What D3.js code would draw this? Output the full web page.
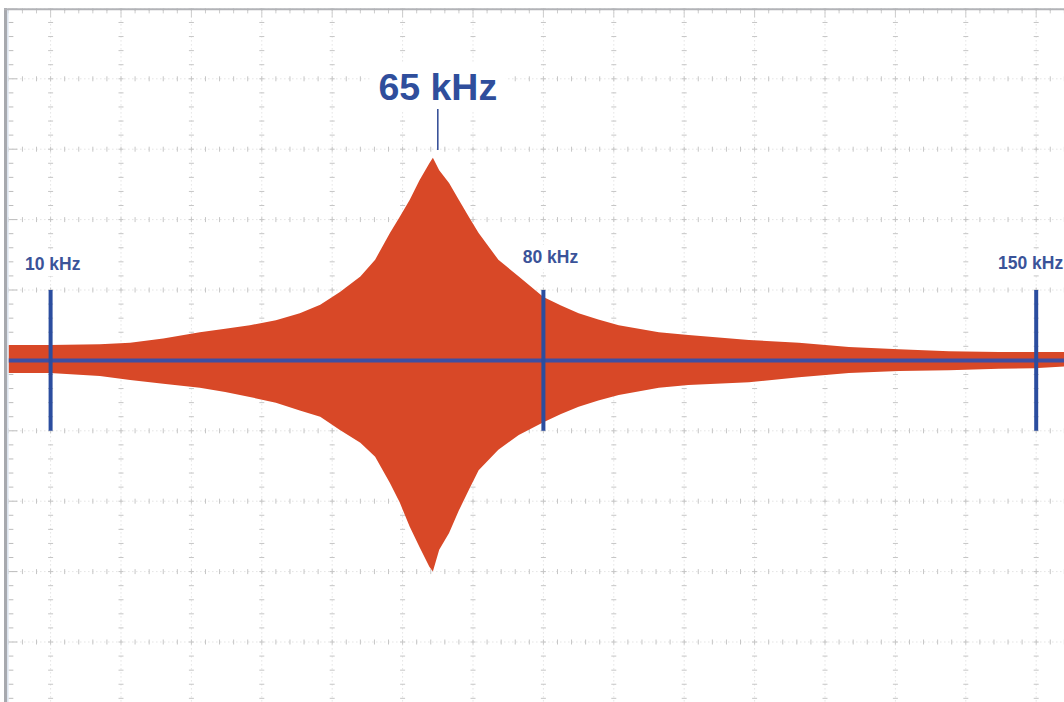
<!DOCTYPE html>
<html>
<head>
<meta charset="utf-8">
<script src="https://cdn.jsdelivr.net/npm/d3@7"></script>
<style>
  html, body { margin: 0; padding: 0; background: #ffffff; overflow: hidden; }
  svg { display: block; }
  text { font-family: "Liberation Sans", Arial, sans-serif; font-weight: bold; }
</style>
</head>
<body>
<svg id="scope" width="1064" height="702"></svg>
<script>
// Swept-sine response envelope (frequency in kHz, amplitude in screen divisions)
const freqKHz = [4.0, 9.9, 17.0, 21.3, 26.0, 31.2, 34.8, 38.3, 42.0, 45.4, 48.3, 51.1, 54.0, 56.1, 58.2, 59.6, 61.0, 62.4, 63.8, 64.3,
                 65.2, 66.6, 68.0, 69.4, 70.8, 73.6, 76.5, 80.0, 82.5, 85.0, 87.8, 90.7, 96.4, 100.6, 109.2, 116.3, 123.4, 130.5,
                 137.6, 144.7, 149.7, 155.0];
const upperDiv = [0.22, 0.22, 0.23, 0.25, 0.31, 0.40, 0.45, 0.50, 0.57, 0.67, 0.79, 0.97, 1.19, 1.43, 1.81, 2.04, 2.28, 2.56, 2.80, 2.88,
                  2.70, 2.52, 2.28, 2.04, 1.81, 1.43, 1.19, 0.90, 0.78, 0.67, 0.58, 0.50, 0.40, 0.36, 0.29, 0.25, 0.19, 0.16,
                  0.13, 0.12, 0.12, 0.12];
const lowerDiv = [0.18, 0.18, 0.22, 0.28, 0.33, 0.39, 0.45, 0.52, 0.60, 0.71, 0.80, 0.99, 1.17, 1.37, 1.74, 2.02, 2.36, 2.65, 2.93, 3.00,
                  2.69, 2.45, 2.13, 1.84, 1.56, 1.27, 1.06, 0.88, 0.76, 0.66, 0.57, 0.49, 0.39, 0.35, 0.31, 0.24, 0.18, 0.15,
                  0.14, 0.12, 0.11, 0.08];

// Frequency markers and the resonance annotation
const markerFreqs = [10, 80, 150];
const markerLabels = ["10 kHz", "80 kHz", "150 kHz"];
const peakFreq = 65;
const peakLabel = "65 kHz";

// Screen graticule
const majorFreqStep = 10, minorFreqStep = 2;
const majorDivStep = 1, minorDivStep = 0.2;

const svg = d3.select("#scope");
const W = 1064, H = 702;

const x = d3.scaleLinear().domain([10, 150]).range([50.6, 1036.2]);
const y = d3.scaleLinear().domain([-5, 5]).range([712.4, 8.4]);

const plotLeft = x(4), plotTop = y(5);
const fMax = x.invert(W + 20);

svg.append("defs").append("clipPath").attr("id", "plotClip")
  .append("rect").attr("x", plotLeft).attr("y", plotTop).attr("width", W - plotLeft + 10).attr("height", H - plotTop + 10);

const plot = svg.append("g").attr("clip-path", "url(#plotClip)");

// Graticule: dotted major lines with small cross ticks
const majorF = d3.range(10, fMax, majorFreqStep);
const majorV = d3.range(-5, 5.01, majorDivStep);
const minorF = d3.range(4, fMax, minorFreqStep);
const minorV = d3.range(-5, 5.01, minorDivStep);

const grid = plot.append("g");
grid.selectAll(".vline").data(majorF).join("line")
  .attr("x1", d => x(d)).attr("x2", d => x(d)).attr("y1", plotTop).attr("y2", H)
  .attr("stroke", "#d6d6d6").attr("stroke-width", 1).attr("stroke-dasharray", "1,3");
grid.selectAll(".hline").data(majorV).join("line")
  .attr("y1", d => y(d)).attr("y2", d => y(d)).attr("x1", plotLeft).attr("x2", W)
  .attr("stroke", "#d6d6d6").attr("stroke-width", 1).attr("stroke-dasharray", "1,3");

// ticks along vertical major lines
majorF.forEach(f => {
  grid.append("g").selectAll("line").data(minorV).join("line")
    .attr("x1", x(f) - 2.5).attr("x2", x(f) + 2.5)
    .attr("y1", d => y(d)).attr("y2", d => y(d))
    .attr("stroke", "#c6c6c6").attr("stroke-width", 1);
});
// ticks along horizontal major lines
majorV.forEach(v => {
  grid.append("g").selectAll("line").data(minorF).join("line")
    .attr("y1", y(v) - 2.5).attr("y2", y(v) + 2.5)
    .attr("x1", d => x(d)).attr("x2", d => x(d))
    .attr("stroke", "#c6c6c6").attr("stroke-width", 1);
});
// ticks along the left frame edge
grid.append("g").selectAll("line").data(minorV).join("line")
  .attr("x1", plotLeft).attr("x2", (d, i) => plotLeft + (i % 5 === 0 ? 9 : 5))
  .attr("y1", d => y(d)).attr("y2", d => y(d))
  .attr("stroke", "#bcbcbc").attr("stroke-width", 1);
// ticks along the top frame edge
grid.append("g").selectAll("line").data(minorF).join("line")
  .attr("y1", plotTop).attr("y2", (d, i) => plotTop + (i % 5 === 3 ? 9 : 5))
  .attr("x1", d => x(d)).attr("x2", d => x(d))
  .attr("stroke", "#cccccc").attr("stroke-width", 1);

// Response envelope
const env = freqKHz.map((f, i) => ({ f, up: upperDiv[i], lo: lowerDiv[i] }));
const area = d3.area()
  .x(d => x(d.f))
  .y0(d => y(-d.lo))
  .y1(d => y(d.up))
  .curve(d3.curveLinear);
plot.append("path").datum(env).attr("d", area).attr("fill", "#d84827");

// Centre trace
plot.append("line")
  .attr("x1", plotLeft).attr("x2", W).attr("y1", y(0)).attr("y2", y(0))
  .attr("stroke", "#3d4fa3").attr("stroke-width", 4);

// Marker bars
plot.append("g").selectAll("line").data(markerFreqs).join("line")
  .attr("x1", d => x(d)).attr("x2", d => x(d))
  .attr("y1", y(1)).attr("y2", y(-1))
  .attr("stroke", "#2b4d9f").attr("stroke-width", 4);

// Marker labels on white plates
const labelDx = [-25.6, -20.7, -38.2];
const labelBase = [270, 263, 269];
const labels = plot.append("g");
markerFreqs.forEach((f, i) => {
  const g = labels.append("g");
  const t = g.append("text")
    .attr("x", x(f) + labelDx[i]).attr("y", labelBase[i])
    .attr("font-size", 17.5).attr("fill", "#3a5399")
    .text(markerLabels[i]);
  const b = t.node().getBBox();
  g.insert("rect", "text")
    .attr("x", b.x - 3).attr("y", b.y - 2).attr("width", b.width + 6).attr("height", b.height + 4)
    .attr("fill", "#ffffff");
});

// Resonance annotation
const pg = plot.append("g");
pg.append("rect").attr("x", x(peakFreq) - 68).attr("y", 62).attr("width", 136).attr("height", 48).attr("fill", "#ffffff");
pg.append("text")
  .attr("x", x(peakFreq)).attr("y", 99.5)
  .attr("text-anchor", "middle").attr("font-size", 37.5).attr("fill", "#2f4e9c")
  .text(peakLabel);
pg.append("line")
  .attr("x1", x(peakFreq)).attr("x2", x(peakFreq)).attr("y1", 109).attr("y2", 150)
  .attr("stroke", "#3a5399").attr("stroke-width", 1.6);

// Frame
svg.append("line").attr("x1", 5.5).attr("x2", 5.5).attr("y1", 8).attr("y2", H)
  .attr("stroke", "#a7a9ae").attr("stroke-width", 3);
svg.append("line").attr("x1", 7.8).attr("x2", 7.8).attr("y1", 10).attr("y2", H)
  .attr("stroke", "#dbe3ee").attr("stroke-width", 1.5);
svg.append("line").attr("x1", 4).attr("x2", W).attr("y1", 9.2).attr("y2", 9.2)
  .attr("stroke", "#b2b3b7").attr("stroke-width", 2);
</script>
</body>
</html>
